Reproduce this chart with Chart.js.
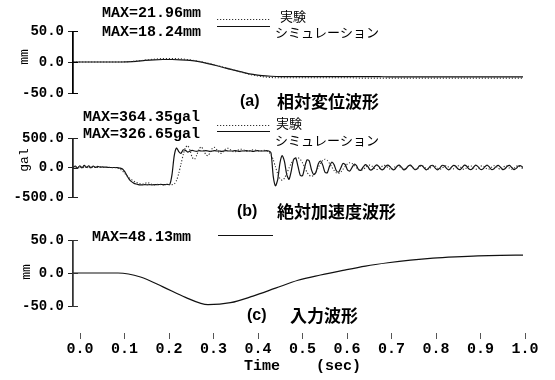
<!DOCTYPE html>
<html>
<head>
<meta charset="utf-8">
<script src="https://cdn.jsdelivr.net/npm/chart.js@4.4.0/dist/chart.umd.min.js"></script>
<style>
  html, body { margin: 0; padding: 0; background: #fff; }
  #wrap { position: relative; width: 555px; height: 380px; background: #fff; }
  #wrap canvas { position: absolute; left: 0; top: 0; }
</style>
</head>
<body>
<div id="wrap">
  <canvas id="chartT" width="555" height="380"></canvas>
  <canvas id="chartA" width="555" height="380"></canvas>
  <canvas id="chartB" width="555" height="380"></canvas>
  <canvas id="chartC" width="555" height="380"></canvas>
</div>
<script>
// ---- data ----
const seriesNames = ['実験', 'シミュレーション'];

// (a) relative displacement, mm, sampled every 0.02 s
const stepA = 0.02;
const dispExp = [0, 0, 0, 0, 0, 0, 0.5, 1.5, 3, 4.5,
  5.5, 5.5, 5, 3.5, 1, -2, -5.5, -9.5, -13.5, -17.5,
  -21, -23.5, -25, -25.5, -25.5, -25.5, -25.5, -25.5, -25.5, -25.5,
  -25.5, -25.5, -26, -26, -26, -26, -26, -26, -26, -26,
  -26, -26, -26, -26, -26, -26, -26, -26, -26, -26, -26];
const dispSim = [0, 0, 0, 0, 0, 0, 0.3, 1, 2.5, 3.5,
  4, 4, 3.5, 2.5, 0.5, -2.5, -6, -10, -13.5, -17,
  -20, -22, -23, -23.5, -23.5, -23.5, -23.5, -23.5, -23.5, -23.5,
  -23.5, -23.5, -23.5, -23.5, -23.5, -24, -24, -24, -24, -24,
  -24, -24, -24, -24, -24, -24, -24, -24, -24, -24, -24];
const maxA = ['MAX=21.96mm', 'MAX=18.24mm'];
const ticksA = [-50, 0, 50];

// (b) absolute acceleration, gal, sampled every 0.005 s
const stepB = 0.005;
const accExp = [0, -10, 15, -15, 20, -10, 25, -15, 20, -5,
  15, 0, 10, 5, 0, 0, 5, 0, -5, -5,
  -10, -30, -60, -100, -140, -175, -205, -230, -250, -265,
  -275, -280, -270, -255, -265, -285, -295, -290, -285, -290,
  -295, -290, -285, -290, -290, -280, -220, -100, 60, 220,
  340, 370, 290, 170, 140, 210, 310, 350, 300, 220,
  200, 260, 330, 340, 300, 250, 240, 280, 320, 325,
  300, 270, 265, 285, 305, 310, 295, 275, 275, 290,
  300, 295, 285, 280, 285, 290, 280, 260, 220, 130,
  10, -110, -190, -215, -180, -100, -10, 70, 130, 160,
  165, 140, 80, 0, -80, -130, -150, -130, -70, 0,
  70, 120, 140, 120, 70, 10, -50, -90, -100, -80,
  -30, 20, 60, 80, 70, 35, -5, -35, -45, -30,
  0, 30, 40, 20, -15, -35, -25, 10, 35, 30,
  -5, -30, -25, 10, 30, 20, -15, -30, -10, 20,
  30, 5, -30, -25, 10, 30, 15, -20, -30, 0,
  30, 25, -10, -30, -15, 20, 30, 5, -25, -25,
  10, 30, 15, -20, -30, -5, 25, 25, -5, -30,
  -20, 15, 30, 10, -25, -25, 5, 30, 20, -15,
  -30, -5, 25, 25, -10, -30, -15, 20, 30, 5,
  -20];
const accSim = [0, 25, -10, 30, -5, 35, 0, 30, -5, 25,
  0, 20, 5, 10, 5, 5, 0, 0, 0, 0,
  -5, -10, -25, -70, -140, -200, -240, -265, -280, -290,
  -295, -295, -290, -295, -290, -295, -290, -290, -290, -285,
  -290, -290, -285, -290, -120, 200, 330, 270, 240, 300,
  290, 260, 280, 290, 280, 275, 285, 280, 280, 285,
  280, 275, 280, 285, 280, 280, 275, 280, 285, 280,
  280, 280, 285, 280, 275, 280, 280, 285, 280, 280,
  275, 280, 285, 280, 280, 280, 285, 280, 250, -150,
  -310, -200, 80, 200, 100, -120, -200, -60, 130, 160,
  20, -130, -140, 10, 130, 110, -40, -120, -80, 60,
  110, 40, -80, -90, 20, 90, 50, -50, -80, -10,
  70, 50, -40, -60, 0, 55, 30, -40, -45, 10,
  50, 20, -40, -35, 15, 45, 15, -35, -30, 20,
  40, 10, -35, -30, 20, 40, 5, -40, -20, 25,
  40, 0, -35, -20, 30, 35, -5, -40, -15, 30,
  35, -10, -40, -10, 35, 30, -15, -40, -5, 35,
  25, -20, -35, 0, 40, 20, -25, -35, 5, 40,
  15, -30, -30, 10, 40, 10, -35, -25, 15, 35,
  5, -35, -20, 20, 35, 0, -35, -15, 25, 30,
  0];
const maxB = ['MAX=364.35gal', 'MAX=326.65gal'];
const ticksB = [-500, 0, 500];

// (c) input displacement, mm, sampled every 0.05 s
const stepC = 0.05;
const inputDisp = [0, 0, 0, -6, -21, -37, -48, -45, -35, -23,
  -11, -3, 4, 10.5, 15.5, 19.5, 22.5, 24.5, 26, 26.8, 27];
const maxC = ['MAX=48.13mm'];
const ticksC = [-50, 0, 50];

const timeTicks = [0, 0.1, 0.2, 0.3, 0.4, 0.5, 0.6, 0.7, 0.8, 0.9, 1.0];

// ---- helpers ----
const MONO = '"Liberation Mono", "DejaVu Sans Mono", monospace';
const JP = '"Noto Sans CJK JP", sans-serif';
const AXIS_X = 73;   // left edge of every plot area

function toPoints(values, step) {
  return values.map((v, i) => ({ x: +(i * step).toFixed(4), y: v }));
}

function lineSet(values, step, dotted, tension) {
  return {
    data: toPoints(values, step),
    borderColor: dotted ? '#333' : '#111',
    borderWidth: dotted ? 1.1 : 1.2,
    borderDash: dotted ? [1.2, 1.8] : [],
    pointRadius: 0,
    tension: tension,
    cubicInterpolationMode: tension ? 'default' : 'monotone',
    fill: false
  };
}

// hidden x scale whose only grid line (at t = 0) is the vertical axis
function xScale(axisColor) {
  return {
    type: 'linear',
    min: 0,
    max: 1,
    afterBuildTicks: s => { s.ticks = [{ value: 0 }]; },
    afterFit: s => { s.height = 0; },
    ticks: { display: false },
    grid: { drawOnChartArea: true, drawTicks: false, color: axisColor, lineWidth: 1.5 },
    border: { display: false }
  };
}

function yScale(ticks) {
  return {
    type: 'linear',
    min: ticks[0],
    max: ticks[ticks.length - 1],
    afterBuildTicks: s => { s.ticks = ticks.map(v => ({ value: v })); },
    afterFit: s => { s.width = AXIS_X; },
    ticks: {
      callback: v => Number(v).toFixed(1),
      font: { family: MONO, size: 14, weight: 'bold' },
      color: '#000',
      padding: 4
    },
    grid: { drawOnChartArea: false, tickLength: 5, color: '#222' },
    border: { display: false }
  };
}

// draws axis line, unit, MAX labels with line samples, series names and the caption
function decorPlugin(id, d, ticks) {
  return {
    id: 'decor' + id,
    afterDraw(chart) {
      const ctx = chart.ctx;
      const ys = chart.scales.y;
      const yTop = Math.round(ys.getPixelForValue(ticks[ticks.length - 1]));
      const yBot = Math.round(ys.getPixelForValue(ticks[0]));
      ctx.save();

      // vertical axis between the outer ticks, plus the inner tick halves
      ctx.fillStyle = d.axisColor;
      ctx.fillRect(AXIS_X - 1, yTop, 1.5, yBot - yTop + 1);
      ticks.forEach(v => {
        const y = Math.round(ys.getPixelForValue(v));
        ctx.fillRect(AXIS_X, y, 5, 1);
      });

      // unit, rotated
      ctx.save();
      ctx.translate(d.unit.x, d.unit.y);
      ctx.rotate(-Math.PI / 2);
      ctx.font = '13px ' + MONO;
      ctx.fillStyle = '#000';
      ctx.textAlign = 'center';
      ctx.textBaseline = 'middle';
      ctx.fillText(d.unit.text, 0, 0);
      ctx.restore();

      ctx.textAlign = 'left';
      ctx.textBaseline = 'middle';
      d.entries.forEach(e => {
        ctx.font = 'bold 15px ' + MONO;
        ctx.fillStyle = '#000';
        ctx.fillText(e.max, e.x, e.y);

        ctx.beginPath();
        ctx.setLineDash(e.dotted ? [1.2, 1.8] : []);
        ctx.strokeStyle = e.dotted ? '#333' : '#111';
        ctx.lineWidth = 1.2;
        ctx.moveTo(e.sx1, e.sy + 0.5);
        ctx.lineTo(e.sx2, e.sy + 0.5);
        ctx.stroke();
        ctx.setLineDash([]);

        if (e.name) {
          ctx.font = '13px ' + JP;
          ctx.fillText(e.name, e.nx, e.ny);
        }
      });

      ctx.fillStyle = '#000';
      ctx.font = 'bold 16px "Liberation Sans", Arial, sans-serif';
      ctx.fillText(d.caption.tag, d.caption.tx, d.caption.y);
      ctx.font = 'bold 17px ' + JP;
      ctx.fillText(d.caption.text, d.caption.x, d.caption.y);

      ctx.restore();
    }
  };
}

function panelChart(canvasId, datasets, ticks, padTop, padBottom, decor) {
  return new Chart(document.getElementById(canvasId), {
    type: 'line',
    data: { datasets: datasets },
    options: {
      responsive: false,
      animation: false,
      devicePixelRatio: 1,
      layout: { padding: { top: padTop, bottom: padBottom, left: 0, right: 32 } },
      scales: {
        x: xScale(decor.axisColor),
        y: yScale(ticks)
      },
      plugins: { legend: { display: false }, tooltip: { enabled: false } }
    },
    plugins: [decorPlugin(canvasId, decor, ticks)]
  });
}

// ---- panel (a) ----
panelChart('chartA', [
  lineSet(dispExp, stepA, true, 0),
  lineSet(dispSim, stepA, false, 0)
], ticksA, 31, 380 - 93, {
  axisColor: '#000',
  unit: { text: 'mm', x: 25, y: 57 },
  entries: [
    { max: maxA[0], x: 102, y: 13, dotted: true, sx1: 217, sx2: 270, sy: 19, name: seriesNames[0], nx: 280, ny: 16 },
    { max: maxA[1], x: 102, y: 32, dotted: false, sx1: 217, sx2: 270, sy: 26, name: seriesNames[1], nx: 275, ny: 32 }
  ],
  caption: { tag: '(a)', tx: 240, text: '相対変位波形', x: 277, y: 102 }
});

// ---- panel (b) ----
panelChart('chartB', [
  lineSet(accExp, stepB, true, 0.25),
  lineSet(accSim, stepB, false, 0.25)
], ticksB, 138, 380 - 197, {
  axisColor: '#222',
  unit: { text: 'gal', x: 25, y: 160 },
  entries: [
    { max: maxB[0], x: 83, y: 117, dotted: true, sx1: 217, sx2: 270, sy: 125, name: seriesNames[0], nx: 276, ny: 123 },
    { max: maxB[1], x: 83, y: 134, dotted: false, sx1: 217, sx2: 270, sy: 131, name: seriesNames[1], nx: 275, ny: 140 }
  ],
  caption: { tag: '(b)', tx: 237, text: '絶対加速度波形', x: 277, y: 212 }
});

// ---- panel (c) ----
panelChart('chartC', [
  lineSet(inputDisp, stepC, false, 0)
], ticksC, 240, 380 - 306, {
  axisColor: '#333',
  unit: { text: 'mm', x: 27, y: 272 },
  entries: [
    { max: maxC[0], x: 92, y: 237, dotted: false, sx1: 218, sx2: 273, sy: 235 }
  ],
  caption: { tag: '(c)', tx: 247, text: '入力波形', x: 290, y: 316 }
});

// ---- shared time axis ----
new Chart(document.getElementById('chartT'), {
  type: 'line',
  data: { datasets: [] },
  options: {
    responsive: false,
    animation: false,
    devicePixelRatio: 1,
    layout: { padding: { top: 320, bottom: 0, left: 80, right: 30 } },
    scales: {
      x: {
        type: 'linear',
        min: timeTicks[0],
        max: timeTicks[timeTicks.length - 1],
        afterBuildTicks: s => { s.ticks = timeTicks.map(v => ({ value: v })); },
        afterFit: s => { s.height = 47; },
        ticks: {
          callback: v => Number(v).toFixed(1),
          font: { family: MONO, size: 15, weight: 'bold' },
          color: '#000',
          padding: 1,
          maxRotation: 0,
          autoSkip: false
        },
        grid: { drawOnChartArea: false, tickLength: 6, color: '#555' },
        border: { display: false },
        title: {
          display: true,
          text: 'Time    (sec)',
          font: { family: MONO, size: 15, weight: 'bold' },
          color: '#000',
          padding: { top: 0, bottom: 5 }
        }
      },
      y: { display: false, min: 0, max: 1 }
    },
    plugins: { legend: { display: false }, tooltip: { enabled: false } }
  }
});
</script>
</body>
</html>
